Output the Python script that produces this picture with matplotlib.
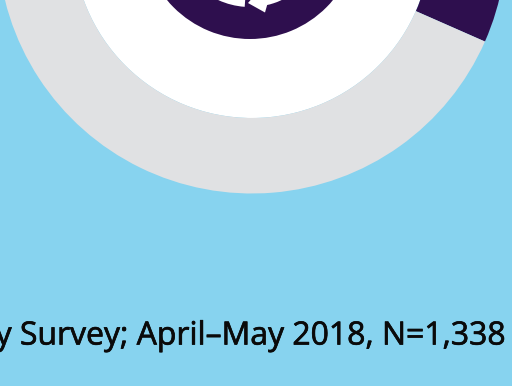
import matplotlib
matplotlib.use("Agg")
import matplotlib.pyplot as plt
import matplotlib.patheffects as pe
from matplotlib.patches import Polygon, Wedge

BACKGROUND = "#87D3EF"
PURPLE = "#2E0F4E"
GREY = "#E0E1E3"
WHITE = "#FFFFFF"

ring_labels = ["Yes", "No"]
outer_ring = [31.6, 68.4]
source_note = "y Survey; April–May 2018, N=1,338"

W, H = 512, 386
fig = plt.figure(figsize=(W / 100, H / 100), dpi=100, facecolor=BACKGROUND)
ax = fig.add_axes([0, 0, 1, 1])

# Large donut showing the survey split, on a white disc
center = (252, 61)
ax.add_patch(Wedge(center, 179, 0, 360, facecolor=WHITE, linewidth=0))
ax.pie(outer_ring, colors=[PURPLE, GREY], startangle=90, counterclock=False,
       center=center, radius=254.5, wedgeprops=dict(width=75.5, linewidth=0))

# Central icon: purple disc carrying a white circular arrow
icon = (250, 69)
ax.add_patch(Wedge(icon, 108, 0, 360, facecolor=PURPLE, linewidth=0))
ax.add_patch(Wedge(icon, 76, 276, 300, width=30, facecolor=WHITE, linewidth=0))
ax.add_patch(Wedge(icon, 76, 225, 266, width=30, facecolor=WHITE, linewidth=0))
ax.add_patch(Polygon([(248, -3), (265, -12.5), (270, 5), (255, 5)], closed=True,
                     facecolor=WHITE, linewidth=0))

ax.set_xlim(0, W)
ax.set_ylim(-H, 0)
ax.axis("off")

note = ax.text(507, -336, source_note, ha="right", va="center", fontsize=23,
               family="Open Sans", color="#0A0A0A")
note.set_path_effects([pe.withStroke(linewidth=0.5, foreground="#0A0A0A")])

fig.savefig("out.png", dpi=100, facecolor=BACKGROUND)
